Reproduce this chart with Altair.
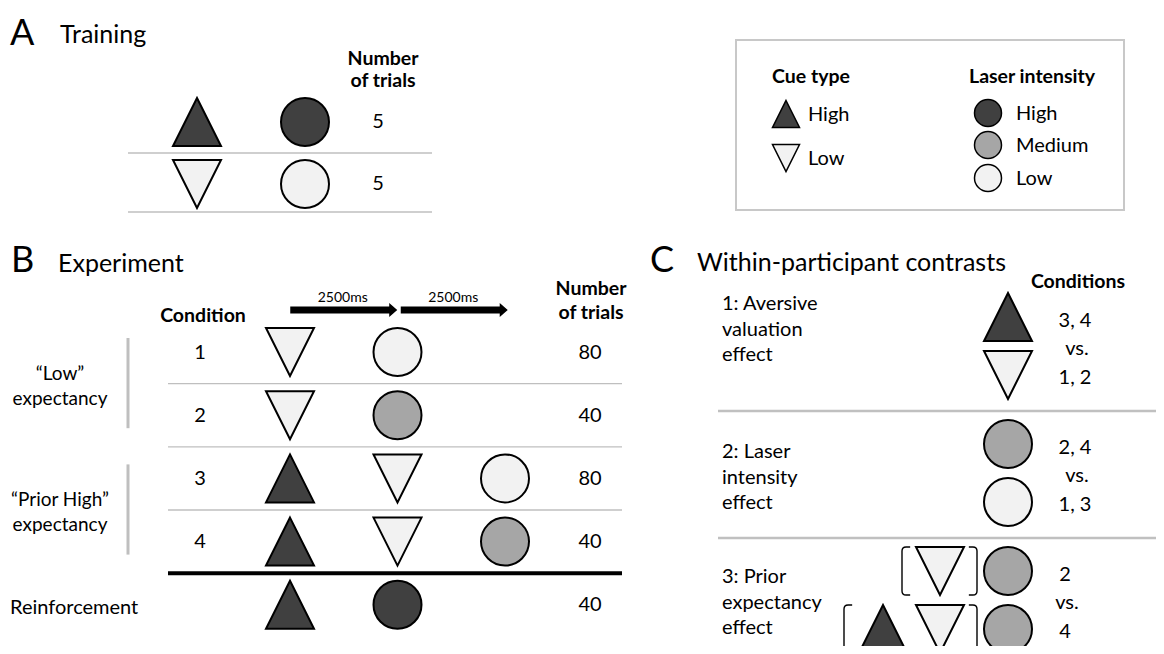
import altair as alt
import pandas as pd

# ================= chart content =================
PANEL_LETTERS = ["A", "B", "C"]
PANEL_TITLES = ["Training", "Experiment", "Within-participant contrasts"]
TRIALS_HEADER = ["Number", "of trials"]

TRAIN_CUES = ["cue:High", "cue:Low"]
TRAIN_LASERS = ["laser:High", "laser:Low"]
TRAIN_TRIALS = ["5", "5"]

LEGEND_TITLES = ["Cue type", "Laser intensity"]
CUE_TYPES = ["High", "Low"]
LASER_LEVELS = ["High", "Medium", "Low"]

EXP_HEADER = "Condition"
EXP_ROW_LABELS = ["1", "2", "3", "4"]
EXP_EXTRA_LABEL = "Reinforcement"
EXP_SEQUENCES = [
    ["cue:Low", "laser:Low"],
    ["cue:Low", "laser:Medium"],
    ["cue:High", "cue:Low", "laser:Low"],
    ["cue:High", "cue:Low", "laser:Medium"],
    ["cue:High", "laser:High"],
]
EXP_TRIALS = ["80", "40", "80", "40", "40"]
EXP_GROUPS = [["\u201cLow\u201d", "expectancy"], ["\u201cPrior High\u201d", "expectancy"]]
EXP_GROUP_ROWS = [[0, 1], [2, 3]]
EPOCH_LABELS = ["2500ms", "2500ms"]

CON_HEADER = "Conditions"
CON_NAMES = [["1: Aversive", "valuation", "effect"],
             ["2: Laser", "intensity", "effect"],
             ["3: Prior", "expectancy", "effect"]]
CON_LISTS = [["3, 4", "vs.", "1, 2"], ["2, 4", "vs.", "1, 3"], ["2", "vs.", "4"]]
CON_TOP_CONTEXT = [[], [], ["cue:Low"]]
CON_TOP_TARGET = ["cue:High", "laser:Medium", "laser:Medium"]
CON_BOTTOM_CONTEXT = [[], [], ["cue:High", "cue:Low"]]
CON_BOTTOM_TARGET = ["cue:Low", "laser:Low", "laser:Medium"]

# ================= layout (page pixels) =================
PAGE_W, PAGE_H, MARGIN = 1164, 654, 8
FONT = "Lato"

LETTER_XY = [(10, 45), (11, 272), (650, 272)]
TITLE_XY = [(60, 43), (58, 272), (697, 271)]

A_ROW_Y = [122, 184]
A_CUE_X, A_LASER_X, A_TRIALS_X = 197, 305, 378
A_HEADER_X, A_HEADER_Y = 383, [65, 87]
A_RULE_X = (128, 432)
A_RULE_DY = [31, 28]

BOX = (736, 40, 1124, 210)
LEG_TITLE_Y = 83
LEG_CUE = dict(title_x=772, sym_x=786, txt_x=808, ys=[114, 158])
LEG_LAS = dict(title_x=969, sym_x=988, txt_x=1016, ys=[113, 145, 178])

B_ROW0, B_ROW_STEP = 352, 63.2
B_COL0, B_COL_STEP = 290, 107.5
B_COND_X, B_TRIALS_X, B_GROUP_X, B_BAR_X = 200, 590, 60, 128
B_RULE_X = (168, 622)
B_HEADER_COND = (203, 322)
B_HEADER_TRIALS = (591, [295, 319])
B_ARROW_Y, B_EPOCH_Y = 310, 302

C_ROW_TOP = [317, 444, 571]
C_PAIR_GAP = 58
C_TARGET_X = 1008
C_CONTEXT_RIGHT_X, C_CONTEXT_STEP = 940, 57
C_NAME_X, C_NAME_Y0, C_NAME_STEP = 722, [310, 458, 583], 25.5
C_LIST_X, C_LIST_DY, C_VS_DX = [1075, 1075, 1065], [10, 38, 67], 2
C_RULE_X, C_RULE_DY = (718, 1170), 94
C_HEADER_XY = (1078, 288)

B_ROWS = [B_ROW0 + i * B_ROW_STEP for i in range(len(EXP_SEQUENCES))]
B_COLS = [B_COL0 + i * B_COL_STEP for i in range(3)]

# ================= shapes & styles =================
UP = "M 0 -1 L 1 1 L -1 1 Z"
DOWN = "M -1 -1 L 1 -1 L 0 1 Z"
LBR = "M 0.34 -1 L 0.17 -1 Q 0 -1 0 -0.83 L 0 0.83 Q 0 1 0.17 1 L 0.34 1"
RBR = "M -0.34 -1 L -0.17 -1 Q 0 -1 0 -0.83 L 0 0.83 Q 0 1 -0.17 1 L -0.34 1"
ARROW = "M -1 -0.065 L 0.85 -0.065 L 0.85 -0.131 L 1 0 L 0.85 0.131 L 0.85 0.065 L -1 0.065 Z"

SHAPE_SCALE = alt.Scale(domain=["up", "down", "circle", "lbr", "rbr", "arrow"],
                        range=[UP, DOWN, "circle", LBR, RBR, ARROW])
FILL_SCALE = alt.Scale(domain=["High", "Medium", "Low"],
                       range=["#404040", "#a6a6a6", "#f2f2f2"])
# the visible page area (inside the 8px body margin) maps 1:1 onto page pixels
XS = alt.Scale(domain=[MARGIN, PAGE_W - MARGIN], zero=False, nice=False)
YS = alt.Scale(domain=[MARGIN, PAGE_H - MARGIN], zero=False, nice=False, reverse=True)


def stim(code, x, y, group):
    kind, level = code.split(":")
    if kind == "cue":
        shape = "up" if level == "High" else "down"
    else:
        shape = "circle"
    return dict(x=x, y=y, shape=shape, level=level, group=group)


def X(f="x"):
    return alt.X(f + ":Q", scale=XS, axis=None)


def Y(f="y"):
    return alt.Y(f + ":Q", scale=YS, axis=None)


# ================= build tables =================
texts = []


def T(text, x, y, style):
    texts.append(dict(text=text, x=x, y=y, style=style))


symbols = []
brackets = []
hrules = []
vbars = []

for letter, title, (lx, ly), (tx, ty) in zip(PANEL_LETTERS, PANEL_TITLES, LETTER_XY, TITLE_XY):
    T(letter, lx, ly, "letter")
    T(title, tx, ty, "title")

# ---- panel A ----
for i, line in enumerate(TRIALS_HEADER):
    T(line, A_HEADER_X, A_HEADER_Y[i], "boldc")
for i, (cue, las, n) in enumerate(zip(TRAIN_CUES, TRAIN_LASERS, TRAIN_TRIALS)):
    y = A_ROW_Y[i]
    symbols.append(stim(cue, A_CUE_X, y, "big"))
    symbols.append(stim(las, A_LASER_X, y, "big"))
    T(n, A_TRIALS_X, y + 6, "bodyc")
    hrules.append(dict(x=A_RULE_X[0], x2=A_RULE_X[1], y=y + A_RULE_DY[i], kind="thin"))

# ---- legend ----
T(LEGEND_TITLES[0], LEG_CUE["title_x"], LEG_TITLE_Y, "boldl")
T(LEGEND_TITLES[1], LEG_LAS["title_x"], LEG_TITLE_Y, "boldl")
for lev, y in zip(CUE_TYPES, LEG_CUE["ys"]):
    symbols.append(stim("cue:" + lev, LEG_CUE["sym_x"], y, "small"))
    T(lev, LEG_CUE["txt_x"], y + 7, "bodyl")
for lev, y in zip(LASER_LEVELS, LEG_LAS["ys"]):
    symbols.append(stim("laser:" + lev, LEG_LAS["sym_x"], y, "small"))
    T(lev, LEG_LAS["txt_x"], y + 7, "bodyl")
box = pd.DataFrame([dict(x=BOX[0], y=BOX[1], x2=BOX[2], y2=BOX[3])])

# ---- panel B ----
T(EXP_HEADER, B_HEADER_COND[0], B_HEADER_COND[1], "boldc")
for i, line in enumerate(TRIALS_HEADER):
    T(line, B_HEADER_TRIALS[0], B_HEADER_TRIALS[1][i], "boldc")
arrows = []
for i, lab in enumerate(EPOCH_LABELS):
    cx = (B_COLS[i] + B_COLS[i + 1]) / 2 + 3 * i
    arrows.append(dict(x=cx, y=B_ARROW_Y, shape="arrow"))
    T(lab, cx - 1, B_EPOCH_Y, "small")
for r, seq in enumerate(EXP_SEQUENCES):
    y = B_ROWS[r]
    for c, code in enumerate(seq):
        symbols.append(stim(code, B_COLS[c], y, "big"))
    T(EXP_TRIALS[r], B_TRIALS_X, y + 6.5, "bodyc")
    if r < len(EXP_ROW_LABELS):
        T(EXP_ROW_LABELS[r], B_COND_X, y + 6.5, "bodyc")
    else:
        T(EXP_EXTRA_LABEL, 10, y + 9.5, "bodyl")
    if r < len(EXP_SEQUENCES) - 1:
        mid = (y + B_ROWS[r + 1]) / 2
        kind = "heavy" if r == len(EXP_SEQUENCES) - 2 else "thin"
        hrules.append(dict(x=B_RULE_X[0], x2=B_RULE_X[1], y=mid, kind=kind))
for lines, (a, b) in zip(EXP_GROUPS, EXP_GROUP_ROWS):
    mid = (B_ROWS[a] + B_ROWS[b]) / 2
    T(lines[0], B_GROUP_X, mid - 4, "bodyg")
    T(lines[1], B_GROUP_X, mid + 21, "bodyg")
    vbars.append(dict(x=B_BAR_X, y=B_ROWS[a] - 14, y2=B_ROWS[b] + 13))

# ---- panel C ----
T(CON_HEADER, C_HEADER_XY[0], C_HEADER_XY[1], "boldc")
for r in range(len(CON_NAMES)):
    top = C_ROW_TOP[r]
    for k, line in enumerate(CON_NAMES[r]):
        T(line, C_NAME_X, C_NAME_Y0[r] + k * C_NAME_STEP, "bodyl")
    for k, line in enumerate(CON_LISTS[r]):
        dx = C_VS_DX if line == "vs." else 0
        T(line, C_LIST_X[r] + dx, top + C_LIST_DY[k], "bodyc")
    for y, ctx, tgt in ((top, CON_TOP_CONTEXT[r], CON_TOP_TARGET[r]),
                        (top + C_PAIR_GAP, CON_BOTTOM_CONTEXT[r], CON_BOTTOM_TARGET[r])):
        symbols.append(stim(tgt, C_TARGET_X, y, "big"))
        n = len(ctx)
        for j, code in enumerate(ctx):
            symbols.append(stim(code, C_CONTEXT_RIGHT_X - (n - 1 - j) * C_CONTEXT_STEP, y, "big"))
        if n:
            left = C_CONTEXT_RIGHT_X - (n - 1) * C_CONTEXT_STEP - 38 - (n - 1)
            brackets.append(dict(x=left, y=y, shape="lbr"))
            brackets.append(dict(x=C_CONTEXT_RIGHT_X + 37, y=y, shape="rbr"))
    if r < len(CON_NAMES) - 1:
        hrules.append(dict(x=C_RULE_X[0], x2=C_RULE_X[1], y=top + C_RULE_DY, kind="thick"))

texts = pd.DataFrame(texts)
symbols = pd.DataFrame(symbols)
brackets = pd.DataFrame(brackets)
arrows = pd.DataFrame(arrows)
hrules = pd.DataFrame(hrules)
vbars = pd.DataFrame(vbars)

# ================= layers =================
layers = []

rule_styles = {"thin": ("#bfbfbf", 1.3), "heavy": ("#000000", 4), "thick": ("#c0c0c0", 2.5)}
for kind, (col, w) in rule_styles.items():
    layers.append(alt.Chart(hrules[hrules.kind == kind]).mark_rule(color=col, strokeWidth=w)
                  .encode(x=X(), x2="x2:Q", y=Y()))
layers.append(alt.Chart(vbars).mark_rule(color="#bfbfbf", strokeWidth=3)
              .encode(x=X(), y=Y(), y2="y2:Q"))
layers.append(alt.Chart(box).mark_rect(filled=False, stroke="#c8c8c8", strokeWidth=2)
              .encode(x=X(), x2="x2:Q", y=Y(), y2="y2:Q"))

for grp, size, sw in (("big", 2304, 2), ("small", 729, 1.5)):
    layers.append(alt.Chart(symbols[symbols.group == grp])
                  .mark_point(filled=True, stroke="black", strokeWidth=sw, opacity=1, size=size)
                  .encode(x=X(), y=Y(),
                          shape=alt.Shape("shape:N", scale=SHAPE_SCALE, legend=None),
                          fill=alt.Fill("level:N", scale=FILL_SCALE, legend=None)))

layers.append(alt.Chart(brackets)
              .mark_point(filled=False, stroke="black", strokeWidth=1.4, opacity=1, size=2304)
              .encode(x=X(), y=Y(), shape=alt.Shape("shape:N", scale=SHAPE_SCALE, legend=None)))
layers.append(alt.Chart(arrows)
              .mark_point(filled=True, fill="black", strokeWidth=0, opacity=1, size=11449)
              .encode(x=X(), y=Y(), shape=alt.Shape("shape:N", scale=SHAPE_SCALE, legend=None)))

text_styles = {
    "letter": dict(fontSize=36, align="left"),
    "title": dict(fontSize=25, align="left"),
    "boldc": dict(fontSize=19.5, fontWeight="bold", align="center"),
    "boldl": dict(fontSize=19.5, fontWeight="bold", align="left"),
    "bodyc": dict(fontSize=20, align="center"),
    "bodyg": dict(fontSize=19, align="center"),
    "bodyl": dict(fontSize=20, align="left"),
    "small": dict(fontSize=14, align="center"),
}
for st, kw in text_styles.items():
    layers.append(alt.Chart(texts[texts["style"] == st])
                  .mark_text(font=FONT, baseline="alphabetic", color="#000000", **kw)
                  .encode(x=X(), y=Y(), text="text:N"))

chart = (alt.layer(*layers)
         .properties(width=PAGE_W - 2 * MARGIN, height=PAGE_H - 2 * MARGIN,
                     autosize="none", padding=0)
         .configure_view(stroke=None))

chart.save("out.html", embed_options={"renderer": "svg", "actions": False})
